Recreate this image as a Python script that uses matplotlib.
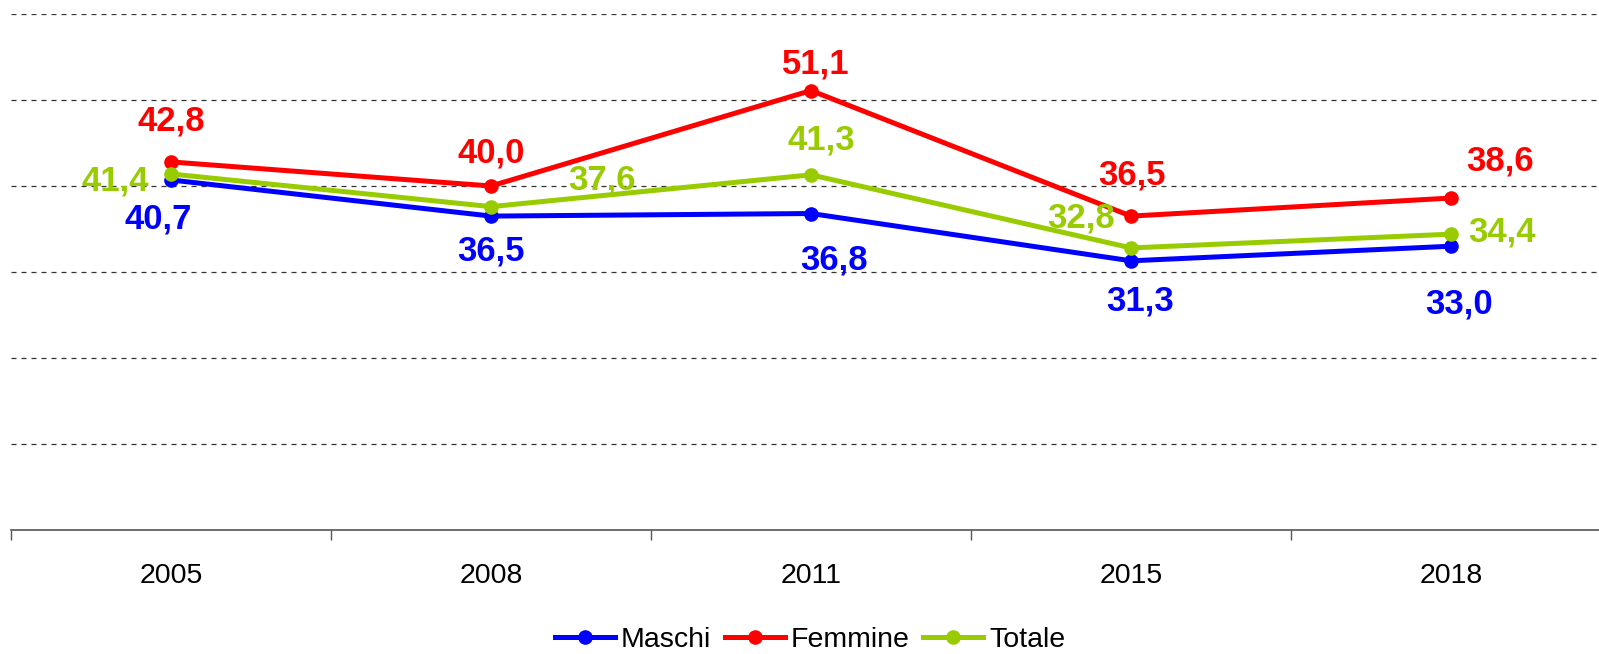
import numpy as np
import matplotlib
matplotlib.use('Agg')
from matplotlib import pyplot as plt
from matplotlib.ticker import FixedLocator

plt.rcParams['font.family'] = ['Liberation Sans', 'DejaVu Sans']

anni = ['2005', '2008', '2011', '2015', '2018']
maschi = [40.7, 36.5, 36.8, 31.3, 33.0]
femmine = [42.8, 40.0, 51.1, 36.5, 38.6]
totale = [41.4, 37.6, 41.3, 32.8, 34.4]

# label offsets in pixels (dx, dy) for each point
off_m = [(-13, -39), (0, -35), (23, -46), (9, -40), (8, -58)]
off_f = [(0, 41), (0, 33), (5, 27), (1, 41), (49, 37)]
off_t = [(-56, -7), (111, 27), (10, 35), (-50, 30), (51, 2)]

series = [
    ('Maschi', maschi, '#0000FF', off_m),
    ('Femmine', femmine, '#FF0000', off_f),
    ('Totale', totale, '#99CC00', off_t),
]

fig = plt.figure(figsize=(15.99, 6.54), dpi=100)
ax = fig.add_axes([11 / 1599, 124 / 654, 1600 / 1599, 516 / 654])

x = np.arange(len(anni))
for name, vals, col, offs in series:
    ax.plot(x, vals, color=col, lw=3.6, marker='o', ms=9.5, label=name, zorder=3)
for name, vals, col, offs in series:
    for xi, v, (dx, dy) in zip(x, vals, offs):
        ax.annotate('{:.1f}'.format(v).replace('.', ','), (xi, v),
                    xytext=(dx, dy), textcoords='offset pixels',
                    ha='center', va='center', color=col,
                    fontsize=25, fontweight='bold', zorder=4)

ax.set_xlim(-0.5, 4.5)
ax.set_ylim(0, 60)
ax.set_yticks(np.arange(10, 61, 10))
ax.yaxis.grid(True, linestyle=(0, (4, 4)), color='#333333', lw=0.9)
ax.tick_params(axis='y', left=False, labelleft=False)

ax.set_xticks(x)
ax.set_xticklabels(anni, fontsize=20.5)
ax.xaxis.set_minor_locator(FixedLocator(np.arange(-0.5, 5, 1)))
ax.tick_params(axis='x', which='major', length=0, pad=24)
ax.tick_params(axis='x', which='minor', length=7, color='#555555', width=1)

for s in ['top', 'right', 'left']:
    ax.spines[s].set_visible(False)
ax.spines['bottom'].set_color('#555555')
ax.spines['bottom'].set_linewidth(1.2)

fig.legend(loc='center', bbox_to_anchor=(810 / 1599, 1 - 640 / 654),
           ncol=3, frameon=False, fontsize=20.5, handlelength=2.1,
           handletextpad=0.2, columnspacing=0.5)

fig.savefig('out.png', dpi=100)
